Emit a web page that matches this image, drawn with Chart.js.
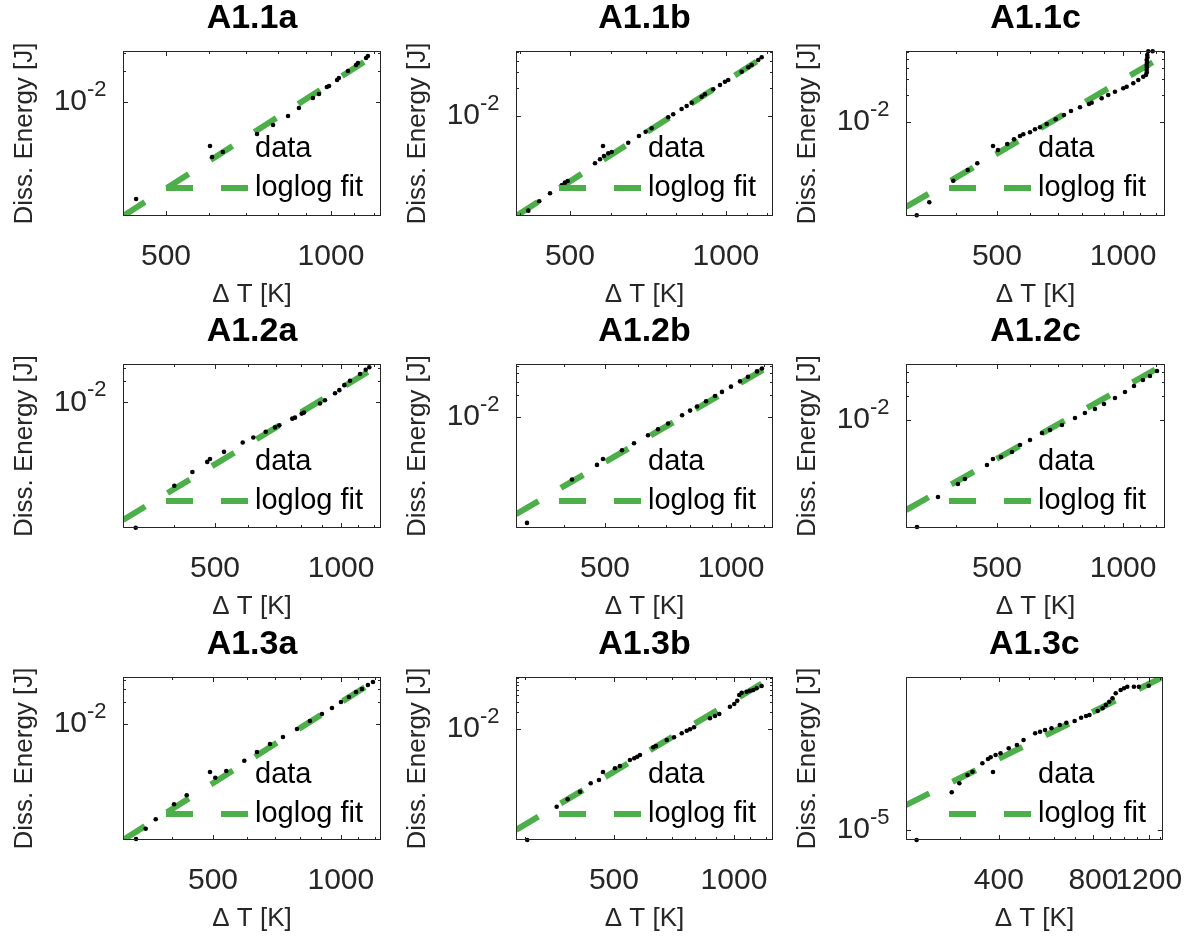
<!DOCTYPE html>
<html>
<head>
<meta charset="utf-8">
<script src="https://cdn.jsdelivr.net/npm/chart.js@4.4.1/dist/chart.umd.min.js"></script>
<style>
  body { margin: 0; background: #fff; }
  #wrap { position: relative; width: 1199px; height: 938px; overflow: hidden; }
</style>
</head>
<body>
<div id="wrap"></div>
<script>
// ΔT [K] and dissipated energy [J] per test
const a11aT = [441, 607, 635, 733, 784, 835, 874, 927, 951, 983, 992, 1026, 1034, 1074, 1111, 1120, 1159, 1168];
const a11aE = [1.144e-3, 2.92e-3, 3.27e-3, 4.89e-3, 5.98e-3, 7.31e-3, 8.74e-3, 1.094e-2, 1.196e-2, 1.398e-2, 1.43e-2, 1.635e-2, 1.71e-2, 2.0e-2, 2.286e-2, 2.39e-2, 2.674e-2, 2.797e-2];
const a11aFitT = [417.4, 1234];
const a11aFitE = [7.82e-4, 3.126e-2];

const a11bT = [415.5, 436.2, 457.6, 482, 489, 495, 558.9, 571.4, 581.7, 592.9, 602, 647.9, 679.5, 700, 719, 774, 791.3, 821.4, 840, 858.8, 898, 911, 945.4, 974.1, 995.9, 1010.6, 1072.8, 1104.6, 1121.5, 1154.8, 1172.5];
const a11bE = [9.35e-4, 1.183e-3, 1.444e-3, 1.765e-3, 1.884e-3, 1.966e-3, 3.06e-3, 3.383e-3, 3.674e-3, 3.932e-3, 4.06e-3, 5.126e-3, 6.063e-3, 6.75e-3, 7.35e-3, 9.68e-3, 1.043e-2, 1.191e-2, 1.285e-2, 1.395e-2, 1.621e-2, 1.722e-2, 1.951e-2, 2.173e-2, 2.359e-2, 2.462e-2, 3.03e-2, 3.383e-2, 3.583e-2, 4.06e-2, 4.345e-2];
const a11bFitT = [393.4, 1233];
const a11bFitE = [8.18e-4, 5.09e-2];

const a11cT = [321.7, 344.7, 393.3, 425.8, 448.7, 502.8, 529.1, 549, 567.5, 577.8, 599.5, 616.2, 633.3, 657.1, 690.5, 722.7, 751, 789, 829.3, 841.4, 888.9, 921.6, 956.3, 1001, 1019.8, 1057.6, 1087, 1117, 1134, 1138.4, 1139, 1140, 1141, 1138.4, 1143, 1138.4, 1142, 1148.4, 1176.5];
const a11cE = [9.19e-4, 1.282e-3, 2.227e-3, 2.929e-3, 3.476e-3, 4.885e-3, 5.69e-3, 6.42e-3, 6.99e-3, 7.30e-3, 7.68e-3, 8.30e-3, 8.73e-3, 9.50e-3, 1.072e-2, 1.196e-2, 1.325e-2, 1.457e-2, 1.585e-2, 1.638e-2, 1.834e-2, 1.995e-2, 2.171e-2, 2.368e-2, 2.467e-2, 2.692e-2, 2.929e-2, 3.187e-2, 3.329e-2, 3.783e-2, 3.55e-2, 4.05e-2, 4.6e-2, 4.30e-2, 5.2e-2, 4.886e-2, 5.55e-2, 6.1e-2, 6.1e-2];
const a11cFitT = [303.3, 1259];
const a11cFitE = [1.137e-3, 5.55e-2];

const a12aT = [323.4, 399.8, 441.6, 479.2, 525.4, 582.3, 617.2, 660.7, 695.4, 712.1, 764.6, 776, 805.1, 815.3, 890.4, 915.2, 967, 990.1, 1017.7, 1050, 1109.5, 1144.6, 1167.5];
const a12aE = [1.753e-4, 6.78e-4, 1.056e-3, 1.461e-3, 2.021e-3, 2.733e-3, 3.214e-3, 3.866e-3, 4.445e-3, 4.745e-3, 5.894e-3, 6.088e-3, 6.932e-3, 7.16e-3, 9.59e-3, 1.067e-2, 1.339e-2, 1.476e-2, 1.736e-2, 1.995e-2, 2.48e-2, 2.85e-2, 3.082e-2];
const a12aFitT = [301.6, 1245];
const a12aFitE = [2.25e-4, 3.43e-2];

const a12bT = [325.7, 417.1, 478.5, 549, 586.5, 633.3, 669.1, 707.4, 763.9, 798.2, 829.3, 871.3, 915.2, 951.1, 999.3, 1050, 1097.3, 1153, 1185];
const a12bE = [3.52e-4, 1.38e-3, 2.188e-3, 3.467e-3, 4.325e-3, 5.58e-3, 6.71e-3, 8.07e-3, 1.044e-2, 1.21e-2, 1.376e-2, 1.624e-2, 1.917e-2, 2.182e-2, 2.574e-2, 3.039e-2, 3.52e-2, 4.157e-2, 4.558e-2];
const a12bFitT = [306.6, 1259];
const a12bFitE = [4.64e-4, 5.25e-2];

const a12cT = [322.2, 361.6, 403.5, 419.3, 473.3, 511.2, 543, 567.5, 599.5, 640.3, 669.1, 714.7, 767.6, 810.8, 856.8, 900.4, 956.3, 1010.4, 1061.7, 1115.2, 1159, 1204.8];
const a12cE = [4.6e-4, 1.09e-3, 1.585e-3, 1.83e-3, 2.74e-3, 3.448e-3, 3.98e-3, 4.87e-3, 5.62e-3, 6.88e-3, 7.5e-3, 8.66e-3, 1.059e-2, 1.223e-2, 1.372e-2, 1.585e-2, 1.884e-2, 2.239e-2, 2.661e-2, 3.162e-2, 3.548e-2, 4.1e-2];
const a12cFitT = [303.3, 1259];
const a12cFitE = [7.5e-4, 5.01e-2];

const a13aT = [329.5, 347.2, 366.6, 404.8, 433.6, 506.3, 537.4, 592.5, 634.6, 680.9, 730.6, 788.2, 845.6, 902.6, 952.8, 1000.5, 1044.7, 1085.2, 1121, 1157.9, 1190];
const a13aE = [2.66e-4, 3.68e-4, 4.95e-4, 7.94e-4, 1.055e-3, 1.838e-3, 2.27e-3, 3.14e-3, 4.134e-3, 5.32e-3, 6.636e-3, 8.54e-3, 1.099e-2, 1.371e-2, 1.656e-2, 2.002e-2, 2.344e-2, 2.744e-2, 3.016e-2, 3.42e-2, 3.76e-2];
const a13aFitT = [307, 1243];
const a13aFitE = [2.576e-4, 4.404e-2];

const a13bT = [303, 359.2, 382.7, 411, 437.2, 458.6, 502.9, 517.6, 548.4, 562.3, 572.1, 581.1, 627.6, 637.4, 678.4, 707.6, 739.7, 761.3, 775.9, 794.2, 870.7, 896.2, 918.7, 977, 1001.6, 1019.3, 1031.1, 1045.4, 1076, 1096.8, 1118, 1140, 1173.6];
const a13bE = [1.042e-4, 4.098e-4, 5.553e-4, 7.593e-4, 1.072e-3, 1.228e-3, 1.987e-3, 2.184e-3, 2.796e-3, 2.997e-3, 3.2e-3, 3.433e-3, 4.713e-3, 4.97e-3, 6.36e-3, 7.11e-3, 8.38e-3, 9.32e-3, 9.88e-3, 1.072e-2, 1.553e-2, 1.707e-2, 1.853e-2, 2.502e-2, 2.795e-2, 3.2e-2, 4.046e-2, 4.447e-2, 4.634e-2, 4.829e-2, 4.97e-2, 5.33e-2, 5.86e-2];
const a13bFitT = [284, 1253];
const a13bFitE = [1.572e-4, 8.48e-2];

const a13cT = [218.9, 283.1, 299.4, 317.9, 329.6, 354.4, 369.3, 376.6, 390.5, 404.9, 429.9, 456.6, 479.2, 521.8, 541, 561, 588.4, 625.2, 655.9, 696.9, 730.9, 758, 776.9, 825.4, 855.5, 876.2, 898.1, 919.6, 941.9, 976.6, 1001, 1025, 1076.2, 1115.7, 1199.5];
const a13cE = [6.42e-6, 5.31e-5, 7.91e-5, 1.142e-4, 1.322e-4, 1.917e-4, 2.319e-4, 2.501e-4, 2.769e-4, 2.985e-4, 3.725e-4, 4.311e-4, 5.38e-4, 7.24e-4, 7.77e-4, 8.38e-4, 9.03e-4, 1.045e-3, 1.157e-3, 1.248e-3, 1.443e-3, 1.557e-3, 1.627e-3, 1.943e-3, 2.19e-3, 2.534e-3, 2.933e-3, 3.41e-3, 4.254e-3, 4.924e-3, 5.31e-3, 5.70e-3, 5.70e-3, 5.70e-3, 5.96e-3];
const a13cFitT = [202.5, 1330];
const a13cFitE = [3.026e-5, 8.76e-3];

// tick values
const xLabels = [500, 1000];
const xLabelsWide = [400, 800, 1200];
const xMinor = [200, 300, 400, 500, 600, 700, 800, 900, 1000, 1100, 1200, 1300];
const yMinor = [0.02, 0.03, 0.04, 0.05, 0.06, 0.07, 0.08, 0.09];

const panels = [
  { title: 'A1.1a', T: a11aT, E: a11aE, fitT: a11aFitT, fitE: a11aFitE, xr: [417.4, 1234], yr: [7.82e-4, 3.126e-2], xMajor: xLabels, yMajor: 1e-2 },
  { title: 'A1.1b', T: a11bT, E: a11bE, fitT: a11bFitT, fitE: a11bFitE, xr: [393.4, 1233], yr: [8.18e-4, 5.09e-2], xMajor: xLabels, yMajor: 1e-2 },
  { title: 'A1.1c', T: a11cT, E: a11cE, fitT: a11cFitT, fitE: a11cFitE, xr: [303.3, 1259], yr: [9.03e-4, 6.15e-2], xMajor: xLabels, yMajor: 1e-2 },
  { title: 'A1.2a', T: a12aT, E: a12aE, fitT: a12aFitT, fitE: a12aFitE, xr: [301.6, 1245], yr: [1.736e-4, 3.43e-2], xMajor: xLabels, yMajor: 1e-2 },
  { title: 'A1.2b', T: a12bT, E: a12bE, fitT: a12bFitT, fitE: a12bFitE, xr: [306.6, 1259], yr: [3.41e-4, 5.25e-2], xMajor: xLabels, yMajor: 1e-2 },
  { title: 'A1.2c', T: a12cT, E: a12cE, fitT: a12cFitT, fitE: a12cFitE, xr: [303.3, 1259], yr: [4.47e-4, 5.01e-2], xMajor: xLabels, yMajor: 1e-2 },
  { title: 'A1.3a', T: a13aT, E: a13aE, fitT: a13aFitT, fitE: a13aFitE, xr: [307, 1243], yr: [2.576e-4, 4.404e-2], xMajor: xLabels, yMajor: 1e-2 },
  { title: 'A1.3b', T: a13bT, E: a13bE, fitT: a13bFitT, fitE: a13bFitE, xr: [284, 1253], yr: [1.042e-4, 8.48e-2], xMajor: xLabels, yMajor: 1e-2 },
  { title: 'A1.3c', T: a13cT, E: a13cE, fitT: a13cFitT, fitE: a13cFitE, xr: [202.5, 1330], yr: [6.42e-6, 8.76e-3], xMajor: xLabelsWide, yMajor: 1e-5 }
];

const FONT = '"Liberation Sans", Arial, Helvetica, sans-serif';
const INK = '#262626';
const GREEN = '#4daf4a';

// box, inward ticks, decade exponent, title and in-axes legend, drawn the MATLAB way
function matlabAxes(p) {
  return {
    id: 'matlabAxes',
    afterDraw(chart) {
      const { ctx, chartArea: a, scales } = chart;
      const xs = scales.x, ys = scales.y;
      ctx.save();
      ctx.strokeStyle = INK;
      ctx.lineWidth = 1;
      ctx.beginPath();
      xMinor.forEach(v => {
        if (v <= p.xr[0] || v >= p.xr[1]) return;
        const px = Math.round(xs.getPixelForValue(v)) + 0.5;
        const len = p.xMajor.includes(v) ? 5 : 3;
        ctx.moveTo(px, a.bottom); ctx.lineTo(px, a.bottom - len);
        ctx.moveTo(px, a.top); ctx.lineTo(px, a.top + len);
      });
      const yt = p.yMajor === 1e-2 ? [1e-2].concat(yMinor) : [p.yMajor];
      yt.forEach(v => {
        if (v <= p.yr[0] || v >= p.yr[1]) return;
        const py = Math.round(ys.getPixelForValue(v)) + 0.5;
        const len = v === p.yMajor ? 5 : 3;
        ctx.moveTo(a.left, py); ctx.lineTo(a.left + len, py);
        ctx.moveTo(a.right, py); ctx.lineTo(a.right - len, py);
      });
      ctx.stroke();
      ctx.strokeRect(Math.round(a.left) + 0.5, Math.round(a.top) + 0.5, Math.round(a.width) - 1, Math.round(a.height) - 1);

      // exponent of the decade label ("10" comes from the axis)
      const ty = ys.getPixelForValue(p.yMajor);
      ctx.fillStyle = INK;
      ctx.font = '22px ' + FONT;
      ctx.textAlign = 'left';
      ctx.textBaseline = 'middle';
      ctx.fillText(p.yMajor === 1e-2 ? '-2' : '-5', a.left - 36, ty - 12);

      ctx.fillStyle = '#000';
      ctx.font = 'bold 34px ' + FONT;
      ctx.textAlign = 'center';
      ctx.fillText(p.title, (a.left + a.right) / 2, a.top - 32);

      const tx = a.left + 132, y1 = a.top + 98, y2 = a.top + 137;
      ctx.font = '29px ' + FONT;
      ctx.textAlign = 'left';
      ctx.fillText('data', tx, y1);
      ctx.fillText('loglog fit', tx, y2);
      ctx.beginPath();
      ctx.arc(tx - 45, y1 - 3, 2.3, 0, Math.PI * 2);
      ctx.fill();
      ctx.strokeStyle = GREEN;
      ctx.lineWidth = 6;
      ctx.setLineDash([27, 28]);
      ctx.beginPath();
      ctx.moveTo(tx - 89, y2);
      ctx.lineTo(tx - 7, y2);
      ctx.stroke();
      ctx.restore();
    }
  };
}

const colX = [0, 395, 790], colW = [395, 395, 409];
const rowY = [0, 313, 626], rowH = [313, 313, 312];
const padL = [12, 10, 5], padR = [14, 17, 34], padB = [5, 6, 6];
const wrap = document.getElementById('wrap');

panels.forEach((p, i) => {
  const r = Math.floor(i / 3), c = i % 3;
  const cv = document.createElement('canvas');
  cv.width = colW[c];
  cv.height = rowH[r];
  cv.style.cssText = `position:absolute;left:${colX[c]}px;top:${rowY[r]}px;width:${colW[c]}px;height:${rowH[r]}px`;
  wrap.appendChild(cv);

  new Chart(cv, {
    type: 'scatter',
    data: {
      datasets: [
        {
          label: 'data',
          data: p.T.map((t, k) => ({ x: t, y: p.E[k] })),
          pointRadius: 2.3,
          pointBackgroundColor: '#000',
          pointBorderWidth: 0,
          showLine: false,
          clip: false
        },
        {
          label: 'loglog fit',
          data: p.fitT.map((t, k) => ({ x: t, y: p.fitE[k] })),
          showLine: true,
          pointRadius: 0,
          borderColor: GREEN,
          borderWidth: 6,
          borderDash: [26, 26],
          clip: 0
        }
      ]
    },
    options: {
      responsive: false,
      animation: false,
      events: [],
      layout: { padding: { left: padL[c], right: padR[c], top: 51, bottom: padB[r] } },
      plugins: { legend: { display: false }, tooltip: { enabled: false } },
      scales: {
        x: {
          type: 'logarithmic',
          position: 'bottom',
          min: p.xr[0],
          max: p.xr[1],
          grid: { display: false },
          border: { display: false },
          afterBuildTicks: ax => { ax.ticks = p.xMajor.map(v => ({ value: v })); },
          afterFit: ax => { ax.height = 92; },
          ticks: {
            autoSkip: false, maxRotation: 0, padding: 15, color: INK,
            font: { family: FONT, size: 30, lineHeight: 1.2 },
            callback: v => String(v)
          },
          title: { display: true, text: 'Δ T [K]', color: INK, font: { family: FONT, size: 26, lineHeight: 1 }, padding: 0 }
        },
        y: {
          type: 'logarithmic',
          position: 'left',
          min: p.yr[0],
          max: p.yr[1],
          grid: { display: false },
          border: { display: false },
          afterBuildTicks: ax => { ax.ticks = [{ value: p.yMajor }]; },
          afterFit: ax => { ax.width = 111; },
          ticks: {
            autoSkip: false, padding: 28, color: INK,
            font: { family: FONT, size: 30, lineHeight: 1.2 },
            callback: () => '10'
          },
          title: { display: true, text: 'Diss. Energy [J]', color: INK, font: { family: FONT, size: 26, lineHeight: 1 }, padding: 0 }
        }
      }
    },
    plugins: [matlabAxes(p)]
  });
});
</script>
</body>
</html>
